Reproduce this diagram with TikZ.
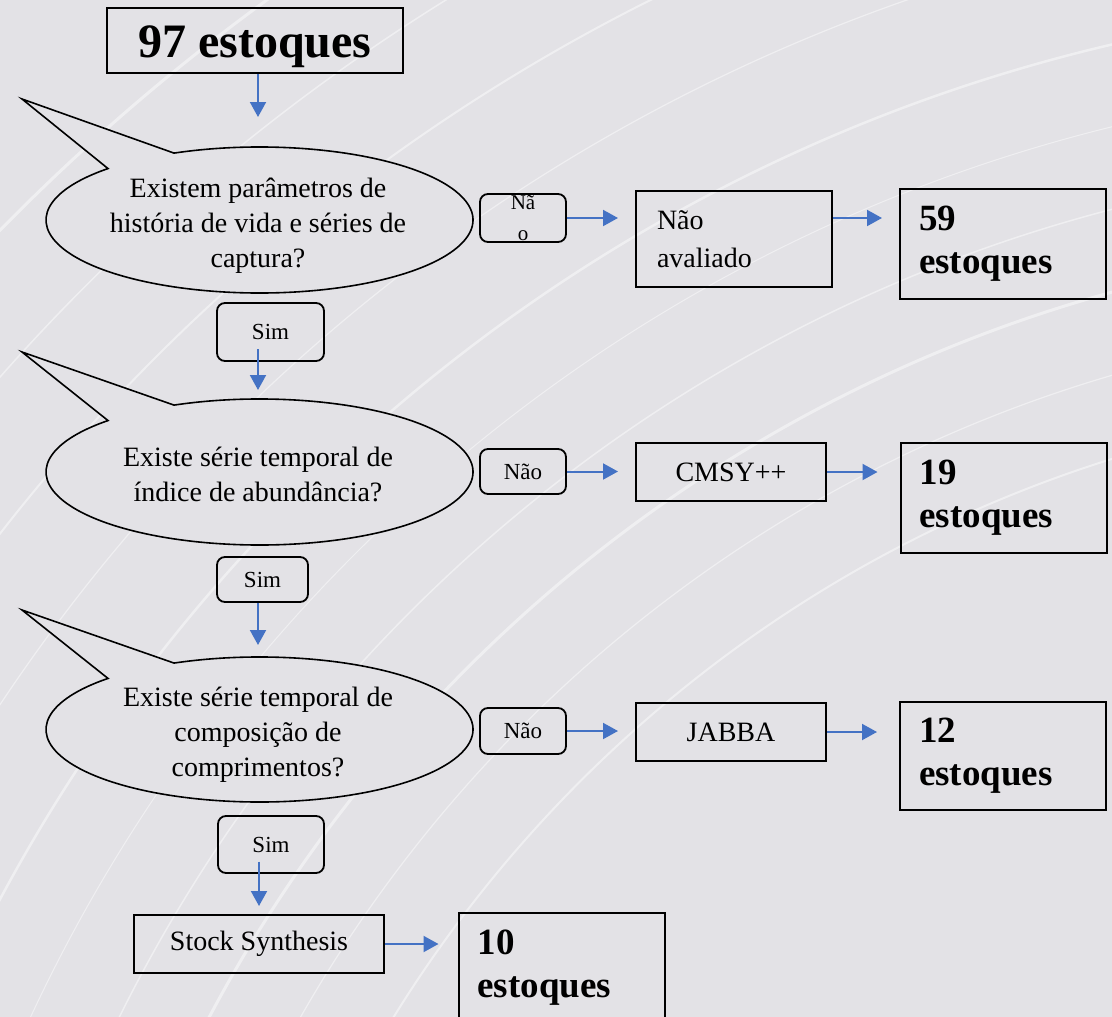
\documentclass[tikz,border=0pt]{standalone}
\usepackage{fontspec}
\setmainfont{Liberation Serif}
\usetikzlibrary{arrows.meta,positioning}

\definecolor{bgcol}{RGB}{227,226,230}
\definecolor{flowblue}{RGB}{68,114,196}

\tikzset{
  flow/.style={draw=flowblue, line width=2pt, -{Triangle[width=16pt,length=15pt]}},
  bubble/.style={draw=black, line width=1.6pt, fill=bgcol},
  question/.style={align=center, inner sep=0pt, font=\fontsize{28}{35}\selectfont},
  answer/.style={draw, rounded corners=8pt, line width=1.8pt, inner sep=0pt, font=\fontsize{23}{31}\selectfont},
  method/.style={draw, line width=2pt, inner sep=0pt, minimum width=190pt, minimum height=58pt, font=\fontsize{28}{35}\selectfont},
  countbox/.style={draw, line width=2pt, align=left, text width=168pt, inner xsep=19pt, inner ysep=0pt, minimum height=110pt, font=\bfseries\fontsize{37}{43}\selectfont},
  swoosh/.style={draw=white, opacity=.45},
}

\begin{document}
\begin{tikzpicture}[x=1pt, y=1pt]
    % Background with light swooshes
    \fill[bgcol] (0,0) rectangle (1112,-1017);
    \useasboundingbox (0,0) rectangle (1112,-1017);
    \begin{scope}
        \clip (0,0) rectangle (1112,-1017);
        \foreach \r/\w in {1300/2, 1380/1.2, 1460/3, 1540/1.5, 1620/1, 1700/2.5, 1800/1.2, 1900/2, 2000/1.5, 2100/3}
            \draw[swoosh, line width=\w pt] (1500,-1700) circle (\r);
    \end{scope}

    % Top box
    \node[draw, line width=2pt, minimum width=296pt, minimum height=65pt, inner sep=0pt,
          text height=43pt, text depth=10pt,
          font=\bfseries\fontsize{48}{50}\selectfont] (total) at (255,-40.5) {97 estoques};

    % Question bubbles
    \filldraw[bubble] ([shift={(113.6:213.5 and 73)}]259.5,-220) arc[start angle=113.6, end angle=-224.8, x radius=213.5, y radius=73] -- (22,-99) -- cycle;
    \filldraw[bubble] ([shift={(113.6:213.5 and 73)}]259.5,-472) arc[start angle=113.6, end angle=-224.8, x radius=213.5, y radius=73] -- (22,-352) -- cycle;
    \filldraw[bubble] ([shift={(113.6:213.5 and 72.5)}]259.5,-729.5) arc[start angle=113.6, end angle=-224.8, x radius=213.5, y radius=72.5] -- (22,-610) -- cycle;

    \node[question] (q1) at (258,-226) {Existem parâmetros de\\história de vida e séries de\\captura?};
    \node[question] (q2) at (258,-474) {Existe série temporal de\\índice de abundância?};
    \node[question] (q3) at (258,-735) {Existe série temporal de\\composição de\\comprimentos?};

    \coordinate (q1top) at (258,-117);
    \coordinate (q2top) at (258,-390);
    \coordinate (q3top) at (258,-645);

    % Answers
    \node[answer, minimum width=86pt, minimum height=48pt, align=center, font=\fontsize{21}{31}\selectfont] (no1) at (523,-218) {Nã\\o};
    \node[answer, minimum width=86pt, minimum height=45pt] (no2) at (523,-471.5) {Não};
    \node[answer, minimum width=86pt, minimum height=46pt] (no3) at (523,-731) {Não};
    \node[answer, minimum width=107pt, minimum height=58pt] (sim1) at (270.5,-332) {Sim};
    \node[answer, minimum width=91pt, minimum height=45pt] (sim2) at (262.5,-579.5) {Sim};
    \node[answer, minimum width=106pt, minimum height=57pt] (sim3) at (271,-844.5) {Sim};

    % Methods
    \node[method, align=left, text width=154pt, inner xsep=21pt, minimum height=96pt, font=\fontsize{28}{38}\selectfont] (skip1) at (734,-239) {Não\\avaliado};
    \node[method] (cmsy) at (731,-472) {CMSY++};
    \node[method] (jabba) at (731,-732) {JABBA};
    \node[method, minimum width=250pt] (ss) at (259,-944) {Stock Synthesis};

    % Stock counts
    \node[countbox] (n59) at (1003,-244) {59\\estoques};
    \node[countbox] (n19) at (1003.5,-498) {19\\estoques};
    \node[countbox, minimum height=108pt] (n12) at (1003,-756) {12\\estoques};
    \node[countbox] (n10) at (561.5,-968) {10\\estoques};

    % Vertical flow
    \draw[flow] (total.south -| q1top) -- (q1top);
    \draw[flow, shorten <=17pt] (sim1.center -| q2top) -- (q2top);
    \draw[flow] (sim2.south -| q3top) -- (q3top);
    \draw[flow, shorten <=17pt, shorten >=8pt] (sim3.center -| ss.north) -- (ss.north);

    % Horizontal flow
    \draw[flow, shorten >=17pt] (no1.east) -- (no1.east -| skip1.west);
    \draw[flow, shorten >=17pt] (skip1.east |- no1.east) -- (no1.east -| n59.west);
    \draw[flow, shorten >=17pt] (no2.east) -- (no2.east -| cmsy.west);
    \draw[flow, shorten >=22pt] (cmsy.east) -- (cmsy.east -| n19.west);
    \draw[flow, shorten >=17pt] (no3.east) -- (no3.east -| jabba.west);
    \draw[flow, shorten >=22pt] (jabba.east) -- (jabba.east -| n12.west);
    \draw[flow, shorten >=19pt] (ss.east) -- (ss.east -| n10.west);
\end{tikzpicture}
\end{document}
